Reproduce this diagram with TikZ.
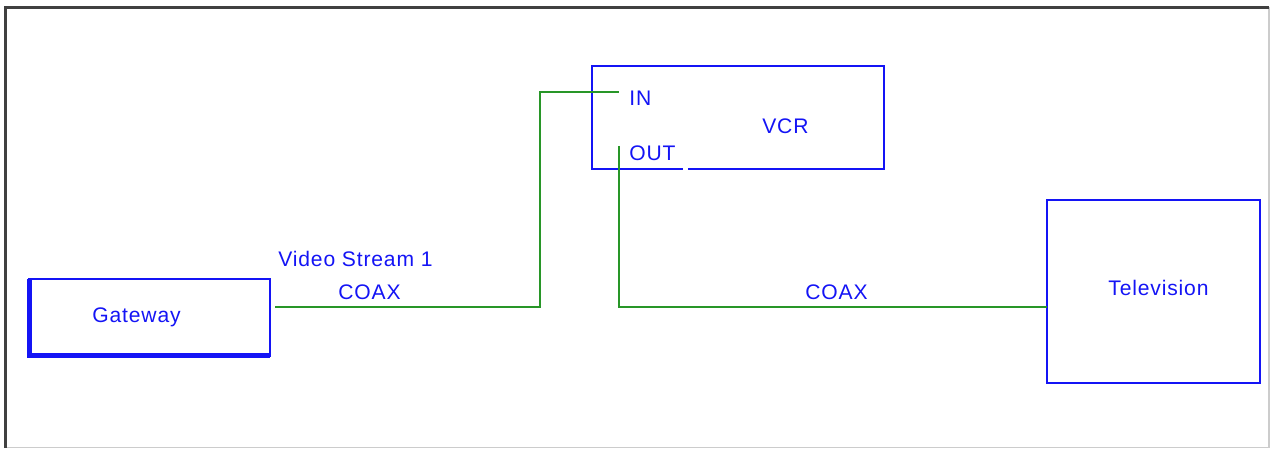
\documentclass[tikz,border=0pt]{standalone}
\usepackage{fontspec}
\setmainfont{Liberation Sans}
\newfontfamily\lblfont[LetterSpace=4]{Liberation Sans}
\definecolor{boxblue}{RGB}{20,20,245}
\definecolor{wiregreen}{RGB}{40,150,40}
\begin{document}
\begin{tikzpicture}[x=0.02cm,y=-0.02cm,
  devbox/.style={draw=boxblue,line width=1.3pt,inner sep=0pt,outer sep=0pt,rectangle},
  wire/.style={draw=wiregreen,line width=1.2pt},
  lbl/.style={text=boxblue,font=\lblfont\fontsize{12}{13}\selectfont,inner sep=0pt,anchor=base west}]
\useasboundingbox (0,0) rectangle (1271,449);
% frame
\draw[gray!40,line width=1pt] (1269,7.5) -- (1269,447.5) -- (5,447.5);
\draw[black!75,line width=1.3pt] (5.5,447.5) -- (5.5,7.5) -- (1269,7.5);
% boxes
\node[devbox,minimum width=4.82cm,minimum height=1.54cm] (gw) at (149.5,317.5) {};
\draw[boxblue,line width=2.6pt] (gw.north west) ++(0.5,0) -- ([xshift=0.01cm,yshift=0.01cm]gw.south west) -- ([yshift=0.01cm]gw.south east);
\node[devbox,minimum width=5.84cm,minimum height=2.06cm] (vcr) at (738,117.5) {};
\fill[white] (683,165) rectangle (688,173);
\node[devbox,minimum width=4.26cm,minimum height=3.66cm] (tv) at (1153.5,291.5) {};
% labels
\node[lbl] (gwl) at (92,322) {Gateway};
\node[lbl] (vcrl) at (762,134) {VCR};
\node[lbl] (inl) at (629,106) {IN};
\node[lbl] (outl) at (629,161) {OUT};
\node[lbl] (tvl) at (1108,296) {Television};
\node[lbl] (vs) at (278,267) {Video Stream 1};
\node[lbl] (c1) at (338,299) {COAX};
\node[lbl] (c2) at (805,299) {COAX};
% wires
\coordinate (gwE) at (275,307);
\coordinate (inE) at (619,92);
\coordinate (outT) at (619,146);
\draw[wire] (gwE) -- (540,307) |- (inE);
\draw[wire] (outT) |- (tv.west |- gwE);
\end{tikzpicture}
\end{document}
